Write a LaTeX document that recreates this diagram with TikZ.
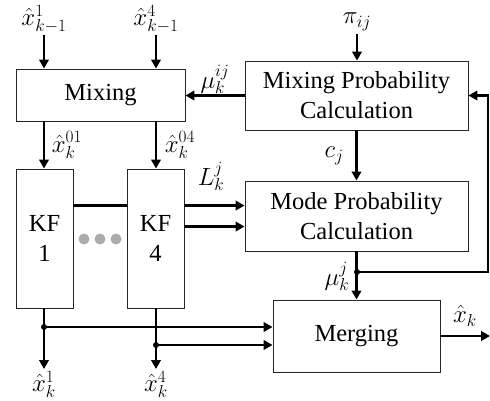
\documentclass[tikz,border=0pt]{standalone}
\usepackage{fontspec}
\setmainfont{Liberation Serif}
\usetikzlibrary{arrows.meta,calc}
\tikzset{
  blk/.style={draw=black!85,line width=0.9pt,inner sep=0pt,align=center,font=\fontsize{24.5}{30}\selectfont},
  wire/.style={line width=2.9pt},
  arr/.style={line width=2.9pt,-{Triangle[length=9pt,width=9.5pt]}},
  lbl/.style={inner sep=1pt,font=\fontsize{24}{28}\selectfont},
  jdot/.style={circle,fill=black,inner sep=0pt,minimum size=6pt},
  gdot/.style={circle,fill=black!33,inner sep=0pt,minimum size=11pt}
}
\begin{document}
\begin{tikzpicture}[x=1pt,y=-1pt]
\useasboundingbox (0,0) rectangle (490,401);
% boxes
\node[blk,minimum width=169pt,minimum height=52pt] (mix) at (100.5,95) {Mixing};
\node[blk,minimum width=223pt,minimum height=69pt] (mpc) at (356.5,95.5) {Mixing Probability\\Calculation};
\node[blk,minimum width=223pt,minimum height=70pt] (mode) at (356.5,216) {Mode Probability\\Calculation};
\node[blk,minimum width=167pt,minimum height=72pt] (merge) at (356.5,336) {Merging};
\node[blk,minimum width=57pt,minimum height=139pt] (kf1) at (44.5,238.5) {KF\\1};
\node[blk,minimum width=57pt,minimum height=139pt] (kf4) at (155.5,238.5) {KF\\4};
% gray dots
\node[gdot] (g1) at (84,239) {};
\node[gdot] (g2) at (100,239) {};
\node[gdot] (g3) at (116,239) {};
% inputs
\coordinate (a1) at (44,35);
\coordinate (a4) at (156,35);
\coordinate (ap) at (357,34);
\node[lbl,anchor=south] (l1) at ([yshift=1pt]a1) {$\hat{x}_{k-1}^{1}$};
\node[lbl,anchor=south] (l4) at ([yshift=1pt]a4) {$\hat{x}_{k-1}^{4}$};
\node[lbl,anchor=south] (lp) at ([yshift=2pt]ap) {$\pi_{ij}$};
\draw[arr] (a1) -- (a1 |- mix.north);
\draw[arr] (a4) -- (a4 |- mix.north);
\draw[arr] (ap) -- (ap |- mpc.north);
% mpc -> mixing
\draw[arr] (mpc.west) -- (mpc.west -| mix.east);
\node[lbl] (lmu) at (215,79) {$\mu_{k}^{ij}$};
% mixing -> KFs
\draw[arr] (mix.south -| a1) -- (kf1.north -| a1);
\draw[arr] (mix.south -| a4) -- (kf4.north -| a4);
\node[lbl] (l01) at (67,145) {$\hat{x}_{k}^{01}$};
\node[lbl] (l04) at (180,145) {$\hat{x}_{k}^{04}$};
% mpc -> mode
\draw[arr] (mpc.south) -- (mode.north);
\node[lbl] (lc) at (334,156) {$c_{j}$};
% KF -> mode
\draw[wire] ([yshift=-37pt]kf1.north east) -- ([yshift=-37pt]kf4.north west);
\coordinate (o1) at ([yshift=-37pt]kf4.north east);
\coordinate (o2) at ([yshift=-58pt]kf4.north east);
\draw[arr] (o1) -- (o1 -| mode.west);
\draw[arr] (o2) -- (o2 -| mode.west);
\node[lbl] (lL) at (211,176) {$L_{k}^{j}$};
% mode -> merging, feedback
\draw[arr] (mode.south) -- (merge.north);
\coordinate (fb) at (357,272);
\coordinate (fbx) at (488,0);
\draw[arr] (fb) -- (fb -| fbx) |- (mpc.east);
\node[jdot] (d0) at (fb) {};
\node[lbl] (lmj) at (337,276) {$\mu_{k}^{j}$};
% KF outputs
\coordinate (j1) at (44,327);
\coordinate (j4) at (156,345);
\coordinate (e1) at (44,369);
\coordinate (e4) at (156,369);
\draw[arr] (kf1.south -| j1) -- (e1);
\draw[arr] (kf4.south -| j4) -- (e4);
\draw[arr] (j1) -- (j1 -| merge.west);
\draw[arr] (j4) -- (j4 -| merge.west);
\node[jdot] (d1) at (j1) {};
\node[jdot] (d4) at (j4) {};
\node[lbl,anchor=north] (lo1) at ([yshift=-1pt]e1) {$\hat{x}_{k}^{1}$};
\node[lbl,anchor=north] (lo4) at ([yshift=-1pt]e4) {$\hat{x}_{k}^{4}$};
% merging output
\coordinate (xo) at (490,336);
\draw[arr] (merge.east) -- (xo);
\node[lbl] (lx) at (465,316) {$\hat{x}_{k}$};
\end{tikzpicture}
\end{document}
